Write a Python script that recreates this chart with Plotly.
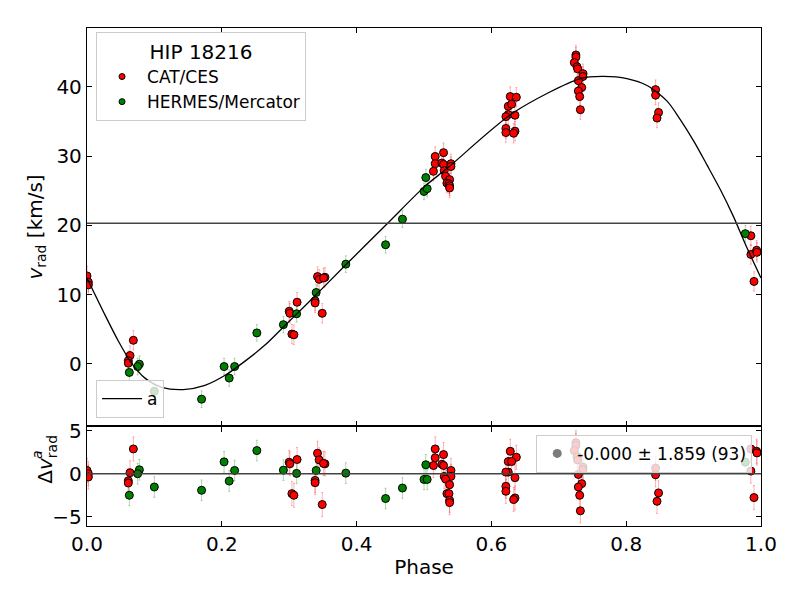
import plotly.graph_objects as go

# CAT/CES measurements (red)
cat_phase = [0.000, 0.002, 0.002,
             0.0688, 0.0638, 0.0613, 0.0613,
             0.300, 0.301, 0.3117, 0.304, 0.307,
             0.342, 0.3444, 0.353, 0.351, 0.3384, 0.3384, 0.349,
             0.5166, 0.529, 0.5166, 0.5265, 0.514, 0.529, 0.540, 0.530, 0.540, 0.532,
             0.538, 0.534, 0.537, 0.538, 0.538,
             0.628, 0.637, 0.625, 0.630, 0.625, 0.6215, 0.635, 0.6215, 0.6215, 0.635, 0.633,
             0.7254, 0.7254, 0.723, 0.727, 0.728, 0.736, 0.7358, 0.729, 0.734, 0.729, 0.731, 0.732,
             0.8436, 0.8436, 0.848, 0.8457,
             0.985, 0.985, 0.9935, 0.994, 0.9896]
cat_vrad = [12.7, 11.8, 11.4,
            3.4, 1.2, 0.45, 0.1,
            7.6, 7.3, 8.9, 4.3, 4.2,
            12.6, 12.2, 12.5, 12.4, 9.1, 8.8, 7.3,
            29.95, 30.5, 28.9, 29.0, 27.8, 28.8, 28.9, 27.9, 28.5, 27.1,
            26.6, 26.1, 26.0, 25.7, 25.4,
            38.6, 38.5, 37.2, 37.5, 36.0, 35.7, 35.9, 34.0, 33.4, 33.6, 33.3,
            44.6, 44.3, 43.5, 42.9, 42.6, 41.9, 41.5, 40.9, 39.9, 39.4, 38.6, 36.7,
            39.6, 38.8, 36.3, 35.5,
            18.5, 15.8, 16.4, 16.1, 11.9]
cat_resid = [0.38, 0.0, -0.38,
             2.88, 0.12, -0.81, -1.08,
             1.34, 1.15, 1.65, -2.31, -2.5,
             2.38, 1.61, 1.15, 1.2, -0.77, -1.04, -3.58,
             2.88, 2.23, 1.85, 1.1, 0.96, 0.96, 0.38, -0.31, -0.31, -0.62,
             -1.27, -2.31, -2.31, -3.08, -3.35,
             2.61, 1.92, 1.42, 1.42, 0.19, 0.19, -0.46, -1.46, -2.04, -2.81, -3.0,
             3.6, 3.3, 2.69, 2.0, 1.6, 0.76, 0.46, -0.08, -1.15, -1.54, -2.5, -4.31,
             0.65, -0.12, -2.23, -3.2,
             2.88, 0.31, 2.61, 2.42, -2.77]
cat_err = 1.4

# HERMES/Mercator measurements (green)
her_phase = [0.0628, 0.0777, 0.0752, 0.0999, 0.170, 0.2034, 0.211, 0.219, 0.252,
             0.2914, 0.311, 0.340, 0.384, 0.443, 0.468, 0.5027, 0.500, 0.5047, 0.9767]
her_vrad = [-1.24, -0.05, -0.39, -3.96, -5.1, -0.39, -2.05, -0.39, 4.47,
            5.66, 7.23, 10.3, 14.4, 17.2, 20.9, 26.9, 24.9, 25.3, 18.8]
her_resid = [-2.5, 0.46, 0.0, -1.54, -1.92, 1.38, -0.85, 0.38, 2.69,
             0.42, 0.04, 0.38, 0.07, -2.88, -1.66, 1.04, -0.66, -0.66, 1.34]
her_err = 1.2

# orbit model "a"
model_phase = [0.0, 0.027, 0.047, 0.066, 0.086, 0.111, 0.143, 0.175, 0.205, 0.235,
               0.264, 0.294, 0.324, 0.384, 0.445, 0.502, 0.534, 0.633, 0.732, 0.766,
               0.801, 0.831, 0.861, 0.880, 0.900, 0.920, 0.940, 0.959, 0.979, 1.0]
model_vrad = [12.4, 7.0, 3.2, 0.1, -2.06, -3.39, -3.71, -3.1, -1.65, 0.43,
              2.71, 5.57, 8.43, 14.3, 20.2, 25.7, 28.2, 36.3, 41.2, 41.5,
              41.2, 40.2, 37.9, 35.3, 32.2, 28.7, 25.1, 21.3, 16.8, 12.4]
gamma = 20.3

res_mean = "-0.000"
res_std = 1.859
n_obs = 93

FONT = "DejaVu Sans"

fig = go.Figure()

for ph, v, res, err, col, ecol in [
    (cat_phase, cat_vrad, cat_resid, cat_err, "red", "rgba(255,0,0,0.3)"),
    (her_phase, her_vrad, her_resid, her_err, "green", "rgba(0,128,0,0.3)"),
]:
    mk = dict(color=col, size=8, line=dict(color="black", width=1))
    eb = dict(type="constant", value=err, color=ecol, thickness=1, width=1)
    fig.add_trace(go.Scatter(x=ph, y=v, mode="markers", marker=mk, error_y=eb,
                             showlegend=False, xaxis="x", yaxis="y"))
    fig.add_trace(go.Scatter(x=ph, y=res, mode="markers", marker=mk, error_y=eb,
                             showlegend=False, xaxis="x2", yaxis="y2"))

fig.add_trace(go.Scatter(x=model_phase, y=model_vrad, mode="lines", name="a",
                         line=dict(color="black", width=1.3, shape="spline", smoothing=0.8),
                         xaxis="x", yaxis="y", legend="legend2"))

# legend entries
fig.add_trace(go.Scatter(x=[None], y=[None], mode="markers", name="CAT/CES",
                         marker=dict(color="red", size=6, line=dict(color="black", width=1)),
                         xaxis="x", yaxis="y", legend="legend"))
fig.add_trace(go.Scatter(x=[None], y=[None], mode="markers", name="HERMES/Mercator",
                         marker=dict(color="green", size=6, line=dict(color="black", width=1)),
                         xaxis="x", yaxis="y", legend="legend"))
fig.add_trace(go.Scatter(x=[None], y=[None], mode="markers",
                         name=f"{res_mean} ± {res_std:.3f} ({n_obs})",
                         marker=dict(color="rgba(90,90,90,0.8)", size=9),
                         xaxis="x2", yaxis="y2", legend="legend3"))

fig.add_hline(y=gamma, line=dict(color="#444", width=1.5), xref="x", yref="y")
fig.add_hline(y=0, line=dict(color="#444", width=1.5), xref="x2", yref="y2")

ax = dict(showline=True, linecolor="black", linewidth=1.3, mirror="ticks",
          ticks="inside", ticklen=5, tickwidth=1.2, tickcolor="black",
          showgrid=False, zeroline=False,
          tickfont=dict(family=FONT, size=20, color="black"))

# the page adds an 8 px body margin, so the figure is a bit smaller than the window
fig.update_layout(
    width=792, height=592,
    margin=dict(l=79, r=39, t=15, b=74),
    paper_bgcolor="white", plot_bgcolor="white",
    font=dict(family=FONT, color="black"),
    xaxis=dict(ax, domain=[0, 1], range=[0, 1], anchor="y", showticklabels=False,
               dtick=0.2, matches="x2"),
    yaxis=dict(ax, domain=[0.201, 1], range=[-8.96, 48.5], anchor="x", dtick=10,
               title=dict(text="<i>v</i><sub>rad</sub> [km/s]",
                          font=dict(family=FONT, size=20), standoff=8)),
    xaxis2=dict(ax, domain=[0, 1], range=[0, 1], anchor="y2", dtick=0.2, tickformat=".1f",
                title=dict(text="Phase", font=dict(family=FONT, size=20), standoff=4)),
    yaxis2=dict(ax, domain=[0, 0.2], range=[-6.07, 5.5], anchor="x2", dtick=5),
    legend=dict(x=0.0134, y=0.992, xanchor="left", yanchor="top",
                bgcolor="rgba(255,255,255,0.8)", bordercolor="#cccccc", borderwidth=1,
                font=dict(family=FONT, size=17), itemwidth=40, tracegroupgap=0,
                title=dict(text="HIP 18216", side="top center",
                           font=dict(family=FONT, size=20))),
    legend2=dict(x=0.0134, y=0.2167, xanchor="left", yanchor="bottom",
                 bgcolor="rgba(255,255,255,0.8)", bordercolor="#cccccc", borderwidth=1,
                 font=dict(family=FONT, size=17), itemwidth=40),
    legend3=dict(x=0.987, y=0.183, xanchor="right", yanchor="top",
                 bgcolor="rgba(255,255,255,0.8)", bordercolor="#cccccc", borderwidth=1,
                 font=dict(family=FONT, size=17), itemwidth=30),
    annotations=[
        dict(text="Δ<i>v</i><sub>rad</sub>", xref="paper", yref="paper",
             x=-0.083, y=0.08, textangle=-90, showarrow=False,
             font=dict(family=FONT, size=20)),
        dict(text="<i>a</i>", xref="paper", yref="paper",
             x=-0.09, y=0.13, textangle=-90, showarrow=False,
             font=dict(family=FONT, size=14)),
    ],
)

fig.write_html("out.html")
